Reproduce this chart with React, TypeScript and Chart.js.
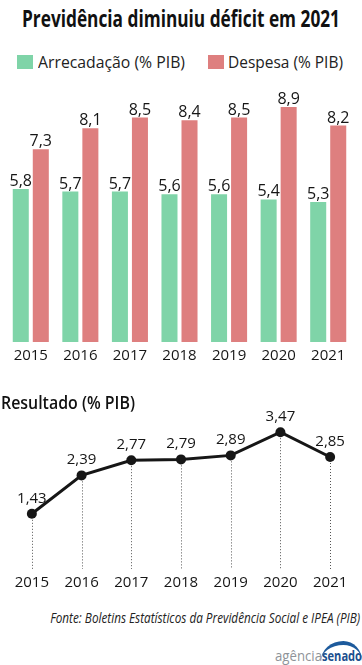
import React, { useEffect, useLayoutEffect, useRef } from "react";
import { Chart, registerables } from "chart.js";

Chart.register(...registerables);

const years = ["2015", "2016", "2017", "2018", "2019", "2020", "2021"];
const arrecadacao = [5.8, 5.7, 5.7, 5.6, 5.6, 5.4, 5.3];
const despesa = [7.3, 8.1, 8.5, 8.4, 8.5, 8.9, 8.2];
const resultado = [1.43, 2.39, 2.77, 2.79, 2.89, 3.47, 2.85];

const titleText = "Previdência diminuiu déficit em 2021";
const legendArrecadacao = "Arrecadação (% PIB)";
const legendDespesa = "Despesa (% PIB)";
const resultadoTitle = "Resultado (% PIB)";
const sourceText = "Fonte: Boletins Estatísticos da Previdência Social e IPEA (PIB)";

const GREEN = "#7fd4a8";
const RED = "#de7f7f";
const INK = "#161616";
const FONT = "'Open Sans', 'Noto Sans', sans-serif";

const fmt = (v: number, d: number) => v.toFixed(d).replace(".", ",");

function FitText(props: { text: string; width: number; origin: string; style: React.CSSProperties }) {
  const ref = useRef<HTMLSpanElement>(null);
  useLayoutEffect(() => {
    const fit = () => {
      const el = ref.current;
      if (!el) return;
      el.style.transform = "none";
      const w = el.getBoundingClientRect().width;
      if (w > 0) el.style.transform = `scaleX(${props.width / w})`;
    };
    fit();
    if ((document as any).fonts && (document as any).fonts.ready) {
      (document as any).fonts.ready.then(fit);
    }
  }, [props.text, props.width]);
  return (
    <span
      ref={ref}
      style={{
        display: "inline-block",
        whiteSpace: "nowrap",
        transformOrigin: props.origin,
        ...props.style,
      }}
    >
      {props.text}
    </span>
  );
}

const barLabels = {
  id: "barLabels",
  afterDatasetsDraw(chart: any) {
    const ctx = chart.ctx;
    ctx.save();
    ctx.font = `16px ${FONT}`;
    ctx.fillStyle = INK;
    ctx.textAlign = "center";
    ctx.textBaseline = "alphabetic";
    chart.data.datasets.forEach((ds: any, i: number) => {
      const meta = chart.getDatasetMeta(i);
      meta.data.forEach((el: any, j: number) => {
        ctx.fillText(fmt(ds.data[j], 1), el.x, el.y - 3);
      });
    });
    ctx.restore();
  },
};

const dropLines = {
  id: "dropLines",
  beforeDatasetsDraw(chart: any) {
    const ctx = chart.ctx;
    const meta = chart.getDatasetMeta(0);
    const bottom = chart.chartArea.bottom - 2;
    ctx.save();
    ctx.strokeStyle = "#555";
    ctx.lineWidth = 1;
    ctx.setLineDash([1, 2]);
    meta.data.forEach((el: any) => {
      ctx.beginPath();
      ctx.moveTo(Math.round(el.x) + 0.5, el.y);
      ctx.lineTo(Math.round(el.x) + 0.5, bottom);
      ctx.stroke();
    });
    ctx.restore();
  },
};

const lineLabels = {
  id: "lineLabels",
  afterDatasetsDraw(chart: any) {
    const ctx = chart.ctx;
    const ds = chart.data.datasets[0];
    const meta = chart.getDatasetMeta(0);
    ctx.save();
    ctx.font = `15px ${FONT}`;
    ctx.fillStyle = INK;
    ctx.textAlign = "center";
    ctx.textBaseline = "alphabetic";
    meta.data.forEach((el: any, j: number) => {
      ctx.fillText(fmt(ds.data[j], 2), el.x, el.y - 11);
    });
    ctx.restore();
  },
};

function BarChart() {
  const ref = useRef<HTMLCanvasElement>(null);
  useEffect(() => {
    if (!ref.current) return;
    const chart = new Chart(ref.current, {
      type: "bar",
      data: {
        labels: years,
        datasets: [
          {
            label: legendArrecadacao,
            data: arrecadacao,
            backgroundColor: GREEN,
            borderWidth: 0,
            categoryPercentage: 0.808,
            barPercentage: 0.8,
          },
          {
            label: legendDespesa,
            data: despesa,
            backgroundColor: RED,
            borderWidth: 0,
            categoryPercentage: 0.808,
            barPercentage: 0.8,
          },
        ],
      },
      options: {
        animation: false,
        responsive: false,
        devicePixelRatio: 1,
        layout: { padding: { top: 8, left: 6, right: 9, bottom: 2 } },
        plugins: {
          legend: { display: false },
          title: { display: false },
          tooltip: { enabled: false },
        },
        scales: {
          y: { display: false, min: 0, max: 10 },
          x: {
            grid: { display: false, drawTicks: false },
            border: { display: false },
            ticks: { color: INK, font: { family: FONT, size: 15 }, padding: 5 },
          },
        },
      },
      plugins: [barLabels],
    } as any);
    return () => chart.destroy();
  }, []);
  return <canvas ref={ref} width={362} height={302} style={{ display: "block", width: 362, height: 302 }} />;
}

function LineChart() {
  const ref = useRef<HTMLCanvasElement>(null);
  useEffect(() => {
    if (!ref.current) return;
    const chart = new Chart(ref.current, {
      type: "line",
      data: {
        labels: years,
        datasets: [
          {
            label: resultadoTitle,
            data: resultado,
            borderColor: INK,
            backgroundColor: INK,
            borderWidth: 3,
            pointRadius: 5,
            pointBackgroundColor: INK,
            pointBorderWidth: 0,
            tension: 0,
            clip: false,
          },
        ],
      },
      options: {
        animation: false,
        responsive: false,
        devicePixelRatio: 1,
        layout: { padding: { top: 6, left: 7, right: 7, bottom: 5 } },
        plugins: {
          legend: { display: false },
          title: { display: false },
          tooltip: { enabled: false },
        },
        scales: {
          y: { display: false, min: 0, max: 4 },
          x: {
            offset: true,
            grid: { display: false, drawTicks: false },
            border: { display: false },
            ticks: { color: INK, font: { family: FONT, size: 15 }, padding: 3 },
          },
        },
      },
      plugins: [dropLines, lineLabels],
    } as any);
    return () => chart.destroy();
  }, []);
  return <canvas ref={ref} width={362} height={195} style={{ display: "block", width: 362, height: 195 }} />;
}

export default function App() {
  const abs = (s: React.CSSProperties): React.CSSProperties => ({ position: "absolute", ...s });
  return (
    <div style={abs({ left: 0, top: 0, width: 362, height: 665, background: "#fff", overflow: "hidden", fontFamily: FONT, color: INK })}>
      <div style={abs({ left: 22, top: 5, lineHeight: "26px", whiteSpace: "nowrap" })}>
        <FitText text={titleText} width={318} origin="left center" style={{ fontSize: 23, fontWeight: 700, color: "#111" }} />
      </div>

      <div style={abs({ left: 17, top: 55, width: 16, height: 14, background: GREEN })} />
      <div style={abs({ left: 38, top: 51, lineHeight: "22px" })}>
        <FitText text={legendArrecadacao} width={147} origin="left center" style={{ fontSize: 17, color: "#222" }} />
      </div>
      <div style={abs({ left: 208, top: 55, width: 16, height: 14, background: RED })} />
      <div style={abs({ left: 228, top: 51, lineHeight: "22px" })}>
        <FitText text={legendDespesa} width={115} origin="left center" style={{ fontSize: 17, color: "#222" }} />
      </div>

      <div style={abs({ left: 0, top: 70 })}>
        <BarChart />
      </div>

      <div style={abs({ left: 0, top: 405 })}>
        <LineChart />
      </div>

      <div style={abs({ left: 1, top: 391, lineHeight: "22px" })}>
        <FitText text={resultadoTitle} width={134} origin="left center" style={{ fontSize: 18, fontWeight: 600, color: "#111" }} />
      </div>

      <div style={abs({ right: 2, top: 607, lineHeight: "20px", textAlign: "right" })}>
        <FitText text={sourceText} width={310} origin="right center" style={{ fontSize: 15, fontStyle: "italic", color: "#222" }} />
      </div>

      <div style={abs({ left: 321, top: 641, width: 41, height: 22, borderTop: "4px solid #1d5a9c", borderRadius: "60% 50% 0 0 / 100% 100% 0 0", boxSizing: "border-box" })} />
      <div style={abs({ left: 275, top: 646, lineHeight: "18px", whiteSpace: "nowrap" })}>
        <FitText text="agência" width={47} origin="left center" style={{ fontSize: 15, color: "#8e9398" }} />
      </div>
      <div style={abs({ left: 322, top: 646, lineHeight: "18px", whiteSpace: "nowrap" })}>
        <FitText text="senado" width={40} origin="left center" style={{ fontSize: 15, fontWeight: 700, color: "#1b4f8e" }} />
      </div>
    </div>
  );
}
